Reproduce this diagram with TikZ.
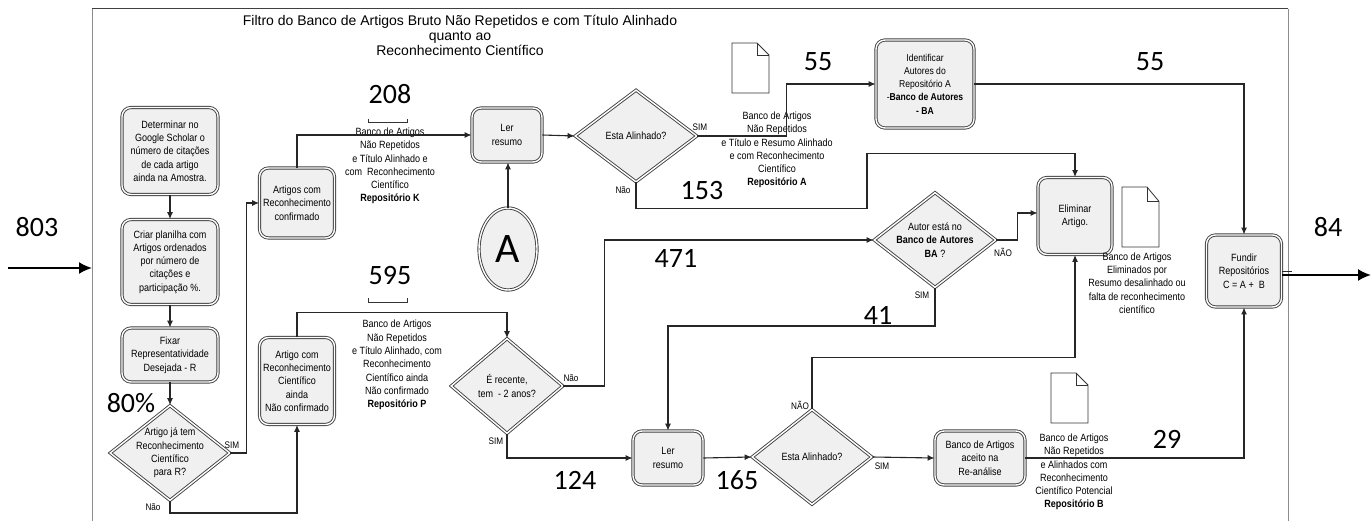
\documentclass[tikz,border=0pt]{standalone}
\usepackage{fontspec}
\setmainfont{Liberation Sans}
\newfontfamily\narrowf[FakeStretch=0.86]{Liberation Sans}
\newfontfamily\numf{Carlito}
\usetikzlibrary{shapes.geometric,arrows.meta}
\begin{document}
\begin{tikzpicture}[x=1pt,y=-1pt,
  every node/.style={inner sep=0pt},
  box/.style={draw=black!75, double=white, double distance=1.4pt, line width=0.9pt, fill=black!6,
    rounded corners=9pt, align=center, font=\narrowf\fontsize{10.5}{13.3}\selectfont},
  dia/.style={diamond, draw=black!75, double=white, double distance=1.4pt, line width=0.9pt, fill=black!6},
  dtxt/.style={align=center, font=\narrowf\fontsize{10.5}{13.3}\selectfont},
  repo/.style={align=center, font=\narrowf\fontsize{10.5}{13.3}\selectfont},
  num/.style={font=\numf\fontsize{28}{28}\selectfont},
  lab/.style={font=\narrowf\fontsize{9.5}{11}\selectfont},
  arr/.style={draw=black!85, line width=1.1pt, -{Latex[length=7pt,width=6pt]}},
  ln/.style={draw=black!85, line width=1.1pt},
  bigarr/.style={draw=black, line width=2pt, -{Latex[length=13pt,width=12pt]}},
  docic/.pic={\draw[fill=white, draw=black!80, line width=0.8pt] (0,0) -- (25,0) -- (37,12) -- (37,50) -- (0,50) -- cycle;
               \draw[draw=black!80, line width=0.8pt] (25,0) -- (25,12) -- (37,12);}
]
\useasboundingbox (0,0) rectangle (1372,521);

% frame
\draw[black!45, line width=1pt] (92,521) -- (92,9);
\draw[black!45, line width=1pt] (1288,9) -- (1288,521);
\draw[black!75, line width=1pt] (92,9) -- (1288,9);

% title
\node[align=center, font=\fontsize{14}{15}\selectfont] (title) at (460,35)
  {Filtro do Banco de Artigos Bruto Não Repetidos e com Título Alinhado\\quanto ao\\Reconhecimento Científico};

% boxes
\node[box, minimum width=96, minimum height=87] (b1) at (170,151)
  {Determinar no\\Google Scholar o\\número de citações\\de cada artigo\\ainda na Amostra.};
\node[box, minimum width=96, minimum height=85] (b2) at (170,262)
  {Criar planilha com\\Artigos ordenados\\por número de\\citações e\\participação \%.};
\node[box, minimum width=96, minimum height=54] (b3) at (170,355)
  {Fixar\\Representatividade\\Desejada - R};
\node[dia, minimum width=120, minimum height=95] (d1) at (170,453) {};
\node[dtxt] (d1t) at (d1) {Artigo já tem\\Reconhecimento\\Científico\\para R?};

\node[box, minimum width=75, minimum height=70] (bK) at (297,203)
  {Artigos com\\Reconhecimento\\confirmado};
\node[box, minimum width=75, minimum height=87] (bP) at (297,381)
  {Artigo com\\Reconhecimento\\Científico\\ainda\\Não confirmado};

\node[box, minimum width=70, minimum height=54] (lr1) at (507,135) {Ler\\resumo};
\node[ellipse, draw=black!75, double=white, double distance=1.4pt, line width=0.9pt, fill=black!6,
  minimum width=58, minimum height=82, font=\numf\fontsize{42}{42}\selectfont] (cA) at (508,249) {A};

\node[dia, minimum width=122, minimum height=92] (d2) at (636,136) {};
\node[dtxt] (d2t) at (d2) {Esta Alinhado?};

\node[box, minimum width=98, minimum height=88, font=\narrowf\fontsize{10}{13.3}\selectfont] (bId) at (925,84)
  {Identificar\\Autores do\\Repositório A\\-\textbf{Banco de Autores}\\\textbf{- BA}};
\node[box, minimum width=74, minimum height=77] (bEl) at (1075,216) {Eliminar\\Artigo.};
\node[box, minimum width=75, minimum height=72] (bF) at (1244,271) {Fundir\\Repositórios\\C = A +\ \ B};

\node[dia, minimum width=122, minimum height=95] (d3) at (935,240) {};
\node[dtxt] (d3t) at (d3) {Autor está no\\\textbf{Banco de Autores}\\\textbf{BA} ?};

\node[dia, minimum width=112, minimum height=95] (d4) at (507,386) {};
\node[dtxt] (d4t) at (d4) {É recente,\\tem\ \ - 2 anos?};

\node[box, minimum width=70, minimum height=54] (lr2) at (668,458) {Ler\\resumo};
\node[dia, minimum width=120, minimum height=95] (d5) at (812,457) {};
\node[dtxt] (d5t) at (d5) {Esta Alinhado?};
\node[box, minimum width=90, minimum height=54] (bRe) at (980,458) {Banco de Artigos\\aceito na\\Re-análise};

% documents
\pic at (732,43) {docic};
\pic[yscale=1.2] at (1122,187) {docic};
\pic at (1051,373) {docic};

% repository texts
\node[repo] (rK) at (390,166) {Banco de Artigos\\Não Repetidos\\e Título Alinhado e\\com\ \ Reconhecimento\\Científico\\\textbf{Repositório K}};
\node[repo] (rA) at (777,150) {Banco de Artigos\\Não Repetidos\\e Título e Resumo Alinhado\\e com Reconhecimento\\Científico\\\textbf{Repositório A}};
\node[repo] (rP) at (397,365) {Banco de Artigos\\Não Repetidos\\e Título Alinhado, com\\Reconhecimento\\Científico ainda\\Não confirmado\\\textbf{Repositório P}};
\node[repo] (rE) at (1137,283) {Banco de Artigos\\Eliminados por\\Resumo desalinhado ou\\falta de reconhecimento\\científico};
\node[repo] (rB) at (1074,472) {Banco de Artigos\\Não Repetidos\\e Alinhados com\\Reconhecimento\\Científico Potencial\\\textbf{Repositório B}};

% brackets
\draw[black!80, line width=1pt] (368,119) -- (368,123) -- (407,123) -- (407,119);
\draw[black!80, line width=1pt] (368,298) -- (368,302) -- (407,302) -- (407,298);

% numbers
\node[num] (n803) at (37,227) {803};
\node[num] (n208) at (390,94) {208};
\node[num] (n595) at (390,276) {595};
\node[num] (n80) at (131,403) {80\%};
\node[num] (n55a) at (818,62) {55};
\node[num] (n55b) at (1150,62) {55};
\node[num] (n153) at (702,191) {153};
\node[num] (n471) at (676,258) {471};
\node[num] (n41) at (878,315) {41};
\node[num] (n124) at (575,480) {124};
\node[num] (n165) at (737,480) {165};
\node[num] (n29) at (1167,439) {29};
\node[num] (n84) at (1328,227) {84};

% labels
\node[lab] (l1) at (232,445) {SIM};
\node[lab] (l2) at (153,507) {Não};
\node[lab] (l3) at (700,127) {SIM};
\node[lab] (l4) at (623,190) {Não};
\node[lab] (l5) at (1003,252) {NÃO};
\node[lab] (l6) at (922,295) {SIM};
\node[lab] (l7) at (571,378) {Não};
\node[lab] (l8) at (496,441) {SIM};
\node[lab] (l9) at (800,405) {NÃO};
\node[lab] (l10) at (882,466) {SIM};

% connectors
\coordinate (inS) at (8,268);
\coordinate (inE) at (92,268);
\draw[bigarr] (inS) -- (inE);
\coordinate (outE) at (1371,275);
\draw[bigarr] ([yshift=-4pt]bF.east) -- (outE);
\draw[ln, line width=0.8pt] (bF.east) -- ++(10,0);

\draw[arr] (b1.south) -- (b2.north);
\draw[arr] (b2.south) -- (b3.north);
\draw[arr] (b3.south) -- (d1.north);
\draw[arr] (d1.east) -- ++(16,0) |- (bK.west);
\draw[arr] (d1.south) -- ++(0,12) -| (bP.south);
\draw[arr] (bK.north) |- (lr1.west);
\draw[arr] (cA.north) -- (cA.north |- lr1.south);
\draw[arr] (lr1.east) -- (d2.west);
\draw[arr] (d2.east) -- ++(89,0) |- (bId.west);
\draw[arr] (d2.south) -- ++(0,26) -- ++(231,0) -- ++(0,-55) -| (bEl.north);
\draw[arr] (bId.east) -| (bF.north);
\draw[arr] (d3.east) -- ++(21,0) |- ([yshift=3pt]bEl.west);
\draw[arr] (d3.south) -- ++(0,38) -| (lr2.north);
\draw[arr] (bP.north) -- ++(0,-25) -| (d4.north);
\draw[arr] (d4.east) -- ++(41,0) |- (d3.west);
\draw[arr] (d4.south) |- (lr2.west);
\draw[arr] (lr2.east) -- (d5.west);
\draw[arr] (d5.north) -- ++(0,-52) -| (bEl.south);
\draw[arr] (d5.east) -- (bRe.west);
\draw[arr] (bRe.east) -| (bF.south);
\end{tikzpicture}
\end{document}
